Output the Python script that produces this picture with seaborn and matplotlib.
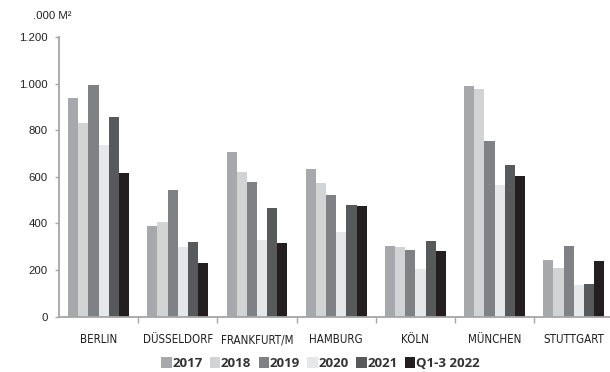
import matplotlib
matplotlib.use("Agg")
import matplotlib.pyplot as plt
from matplotlib import font_manager
from matplotlib.ticker import FuncFormatter, FixedLocator
import seaborn as sns
import pandas as pd

cities = ["BERLIN", "DÜSSELDORF", "FRANKFURT/M", "HAMBURG", "KÖLN", "MÜNCHEN", "STUTTGART"]
periods = ["2017", "2018", "2019", "2020", "2021", "Q1-3 2022"]

v2017 = [940, 388, 705, 635, 305, 990, 245]
v2018 = [833, 408, 622, 572, 297, 975, 210]
v2019 = [992, 542, 577, 522, 285, 752, 305]
v2020 = [735, 297, 328, 362, 203, 563, 135]
v2021 = [858, 320, 465, 478, 325, 650, 142]
v2022 = [615, 232, 315, 473, 280, 603, 240]

palette = ["#a7a8ab", "#d2d3d5", "#808184", "#e6e7e8", "#58595b", "#231f20"]

series = [v2017, v2018, v2019, v2020, v2021, v2022]
df = pd.DataFrame(
    [(c, p, vals[i]) for p, vals in zip(periods, series) for i, c in enumerate(cities)],
    columns=["city", "period", "value"],
)

sns.set_style("white")
plt.rcParams["font.family"] = ["Liberation Sans", "DejaVu Sans"]

# pick an upright, regular-weight condensed face for the city labels
condensed = None
for f in font_manager.fontManager.ttflist:
    is_narrow = (str(f.stretch) in ("condensed", "semi-condensed", "extra-condensed", "narrow")
                 or "Condensed" in f.name or "Narrow" in f.name)
    if is_narrow and f.style == "normal" and f.weight in ("normal", 400, "regular", "book"):
        condensed = f
        break

fig = plt.figure(figsize=(6.10, 3.72), dpi=100)
ax = fig.add_axes([0.0967, 0.1487, 0.9089, 0.7518])

sns.barplot(
    data=df, x="city", y="value", hue="period", order=cities, hue_order=periods,
    palette=palette, width=0.77, linewidth=0, saturation=1, ax=ax, legend=True,
)

axis_grey = "#a6a6a6"
ax.set_xlim(-0.5, 6.5)
ax.set_ylim(0, 1200)
ax.set_yticks(range(0, 1201, 200))
ax.yaxis.set_major_formatter(
    FuncFormatter(lambda v, _: f"{int(v):,}".replace(",", "."))
)
for s in ["top", "right"]:
    ax.spines[s].set_visible(False)
for s in ["left", "bottom"]:
    ax.spines[s].set_color(axis_grey)
    ax.spines[s].set_linewidth(1.3)

ax.tick_params(axis="y", length=3, width=1, color=axis_grey, pad=5,
               labelsize=8.2, labelcolor="#222222", left=True)
ax.tick_params(axis="x", which="major", length=0, pad=12, labelcolor="#222222")
ax.xaxis.set_minor_locator(FixedLocator([i + 0.5 for i in range(6)]))
ax.tick_params(axis="x", which="minor", length=4, width=1, color=axis_grey,
               bottom=True)
for lbl in ax.get_xticklabels():
    if condensed is not None:
        lbl.set_fontproperties(font_manager.FontProperties(fname=condensed.fname, size=8.3))
    else:
        lbl.set_family(["Liberation Sans", "DejaVu Sans"])
        lbl.set_fontsize(7.8)

ax.set_xlabel("")
ax.set_ylabel("")
fig.text(0.054, 0.958, ".000 M²", fontsize=8.2, color="#222222",
         ha="left", va="center")

handles, labels = ax.get_legend_handles_labels()
ax.get_legend().remove()
fig.legend(
    handles, labels, loc="center", bbox_to_anchor=(0.525, 0.022), ncol=6,
    frameon=False, handlelength=0.8, handleheight=0.9, handletextpad=0.05,
    columnspacing=0.55, prop={"family": ["Open Sans", "DejaVu Sans"],
                              "weight": "bold", "size": 9.5},
    labelcolor="#333333",
)

fig.savefig("out.png", dpi=100)
